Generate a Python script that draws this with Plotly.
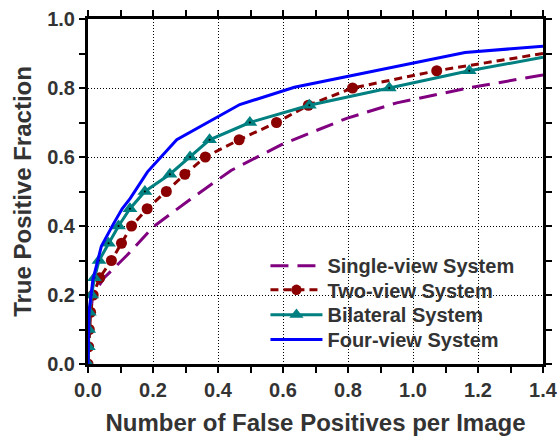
import plotly.graph_objects as go

# ROC-style detection curves: true positive fraction vs. false positives per image
single_x = [0, 0.002, 0.005, 0.015, 0.05, 0.12, 0.2, 0.31, 0.44, 0.60, 0.796, 0.95, 1.17, 1.4]
single_y = [0, 0.06, 0.13, 0.20, 0.25, 0.315, 0.397, 0.474, 0.561, 0.638, 0.712, 0.757, 0.80, 0.838]

two_x = [0, 0.002, 0.004, 0.008, 0.016, 0.036, 0.072, 0.103, 0.134, 0.182, 0.241,
         0.298, 0.361, 0.465, 0.58, 0.678, 0.814, 1.073, 1.4]
two_y = [0, 0.05, 0.10, 0.15, 0.20, 0.25, 0.30, 0.35, 0.40, 0.45, 0.50,
         0.55, 0.60, 0.65, 0.70, 0.75, 0.80, 0.85, 0.90]

bilat_x = [0, 0.001, 0.002, 0.004, 0.011, 0.02, 0.034, 0.063, 0.094, 0.129, 0.175,
           0.252, 0.314, 0.374, 0.498, 0.681, 0.927, 1.173, 1.4]
bilat_y = [0, 0.05, 0.10, 0.15, 0.20, 0.25, 0.30, 0.35, 0.40, 0.45, 0.50,
           0.55, 0.60, 0.65, 0.70, 0.75, 0.80, 0.85, 0.889]

four_x = [0, 0.003, 0.015, 0.041, 0.077, 0.105, 0.13, 0.183, 0.273, 0.467, 0.635, 1.16, 1.4]
four_y = [0, 0.15, 0.244, 0.341, 0.404, 0.45, 0.48, 0.557, 0.65, 0.752, 0.802, 0.903, 0.921]

series_names = ["Single-view System", "Two-view System", "Bilateral System", "Four-view System"]

x_ticks = [0.0, 0.2, 0.4, 0.6, 0.8, 1.0, 1.2, 1.4]
y_ticks = [0.0, 0.2, 0.4, 0.6, 0.8, 1.0]

TEXT = "#333333"
FONT = "Liberation Sans, Arial, sans-serif"


def marker_sizes(n, size):
    # no marker on the final point where the curve meets the right edge
    return [size] * (n - 1) + [0]


fig = go.Figure()

fig.add_trace(go.Scatter(
    x=single_x, y=single_y, mode="lines", name=series_names[0], legend="legend",
    line=dict(color="#800080", width=3, dash="18px,9px"),
))
fig.add_trace(go.Scatter(
    x=two_x, y=two_y, mode="lines+markers", name=series_names[1], legend="legend2",
    line=dict(color="#8B0000", width=3, dash="8px,5px"),
    marker=dict(symbol="circle", size=marker_sizes(len(two_x), 11), color="#8B0000",
                opacity=1, line=dict(width=0)),
))
fig.add_trace(go.Scatter(
    x=bilat_x, y=bilat_y, mode="lines+markers", name=series_names[2], legend="legend3",
    line=dict(color="#008080", width=3),
    marker=dict(symbol="triangle-up", size=marker_sizes(len(bilat_x), 13), color="#008080",
                opacity=1, line=dict(width=0)),
))
# small dark centre dot inside each triangle marker
fig.add_trace(go.Scatter(
    x=bilat_x[:-1], y=bilat_y[:-1], mode="markers", showlegend=False, hoverinfo="skip",
    marker=dict(symbol="circle", size=2, color="#000000"),
))
fig.add_trace(go.Scatter(
    x=four_x, y=four_y, mode="lines", name=series_names[3], legend="legend4",
    line=dict(color="#0000FF", width=3),
))

axis_common = dict(
    showline=True, linecolor="black", linewidth=3, mirror="ticks",
    ticks="outside", ticklen=6, tickwidth=2, tickcolor="black",
    showgrid=True, gridcolor="black", gridwidth=1, griddash="1px,2px",
    zeroline=False, automargin=False, ticklabeloverflow="allow",
    tickfont=dict(family=FONT, size=20, color=TEXT, weight="bold"),
    minor=dict(dtick=0.1, ticks="outside", ticklen=6, tickwidth=2, tickcolor="black", showgrid=False),
)

fig.update_xaxes(
    range=[0, 1.4], tickvals=x_ticks, ticktext=[f"{v:.1f}" for v in x_ticks],
    title=dict(text="Number of False Positives per Image",
               font=dict(family=FONT, size=24, color=TEXT, weight="bold"), standoff=22),
    **axis_common,
)
fig.update_yaxes(
    range=[0, 1.0], tickvals=y_ticks, ticktext=[f"{v:.1f}" for v in y_ticks],
    title=dict(text="True Positive Fraction",
               font=dict(family=FONT, size=24, color=TEXT, weight="bold"), standoff=9),
    **axis_common,
)

legend_style = dict(
    xanchor="left", yanchor="middle",
    bgcolor="rgba(0,0,0,0)", borderwidth=0,
    font=dict(family=FONT, size=20, color=TEXT, weight="bold"),
    itemwidth=52,
)
legend_rows = [0.285, 0.215, 0.143, 0.071]  # paper-y centre of each legend row

fig.update_layout(
    width=557, height=436,
    margin=dict(l=88, r=14, t=19, b=72),
    paper_bgcolor="white", plot_bgcolor="white",
    showlegend=True,
    legend=dict(x=0.39, y=legend_rows[0], **legend_style),
    legend2=dict(x=0.39, y=legend_rows[1], **legend_style),
    legend3=dict(x=0.39, y=legend_rows[2], **legend_style),
    legend4=dict(x=0.39, y=legend_rows[3], **legend_style),
)

fig.write_html("out.html")
